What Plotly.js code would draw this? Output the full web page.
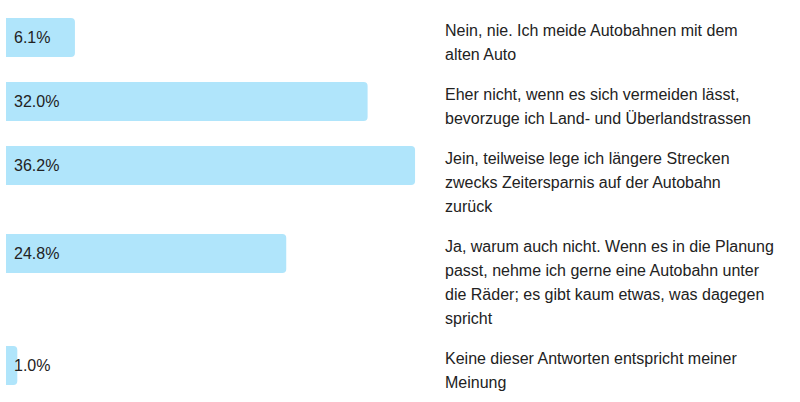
<!DOCTYPE html>
<html>
<head>
<meta charset="utf-8">
<script src="https://cdn.plot.ly/plotly-3.0.1.min.js"></script>
<style>
  html, body { margin: 0; padding: 0; background: #fff; }
  #chart { width: 800px; height: 402px; }
</style>
</head>
<body>
<div id="chart"></div>
<script>
// survey answers, wrapped the way the reference shows them
var answers = [
  ["Nein, nie. Ich meide Autobahnen mit dem", "alten Auto"],
  ["Eher nicht, wenn es sich vermeiden lässt,", "bevorzuge ich Land- und Überlandstrassen"],
  ["Jein, teilweise lege ich längere Strecken", "zwecks Zeitersparnis auf der Autobahn", "zurück"],
  ["Ja, warum auch nicht. Wenn es in die Planung", "passt, nehme ich gerne eine Autobahn unter", "die Räder; es gibt kaum etwas, was dagegen", "spricht"],
  ["Keine dieser Antworten entspricht meiner", "Meinung"]
];
var shares = [6.1, 32.0, 36.2, 24.8, 1.0];
var shareLabels = ["6.1%", "32.0%", "36.2%", "24.8%", "1.0%"];

function drawAnswers() {
  var lineH = 24, rowPad = 16, barH = 39, top0 = 18;
  var pxPerPct = 11.3, left = 6, W = 800, H = 402;

  // row tops follow the height of each answer's text block
  var tops = [], t = top0;
  answers.forEach(function (lines) {
    tops.push(t);
    t += lines.length * lineH + rowPad;
  });
  var centers = tops.map(function (v) { return v + barH / 2; });

  var bars = {
    type: "bar",
    orientation: "h",
    x: shares,
    y: centers,
    width: barH,
    marker: { color: "#b0e5fb", line: { width: 0 } },
    hoverinfo: "skip"
  };

  var notes = [];
  shares.forEach(function (v, i) {
    notes.push({
      xref: "x", yref: "y", x: 0, y: centers[i],
      xanchor: "left", yanchor: "middle", xshift: 6,
      text: shareLabels[i], showarrow: false,
      font: { family: "Liberation Sans, Arial, sans-serif", size: 16, color: "#222222" }
    });
    answers[i].forEach(function (line, k) {
      notes.push({
        xref: "paper", yref: "y", x: (443 - left) / (W - left),
        y: tops[i] + 12 + k * lineH,
        xanchor: "left", yanchor: "middle",
        text: line, showarrow: false,
        font: { family: "Liberation Sans, Arial, sans-serif", size: 16, color: "#222222" }
      });
    });
  });

  var layout = {
    width: W, height: H,
    margin: { l: left, r: 0, t: 0, b: 0, pad: 0 },
    paper_bgcolor: "#ffffff",
    plot_bgcolor: "#ffffff",
    showlegend: false,
    barcornerradius: 4,
    xaxis: { range: [0, (W - left) / pxPerPct], visible: false, fixedrange: true },
    yaxis: { range: [H, 0], visible: false, fixedrange: true },
    annotations: notes
  };

  Plotly.newPlot("chart", [bars], layout, { displayModeBar: false, staticPlot: true });
}
drawAnswers();
</script>
</body>
</html>
